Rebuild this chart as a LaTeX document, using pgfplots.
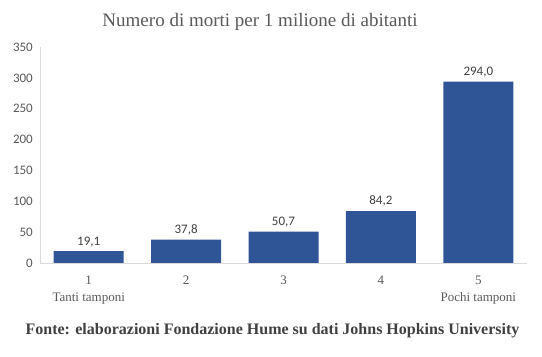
\documentclass[border=0pt]{standalone}
\usepackage{pgfplots}
\pgfplotsset{compat=1.18}
\usepackage{fontspec}
\setmainfont{Liberation Serif}
\newfontfamily\calibri{Carlito}
\definecolor{barblue}{HTML}{2F5597}
\definecolor{txtgray}{HTML}{595959}
\definecolor{lbldark}{HTML}{404040}
\definecolor{axgray}{HTML}{D9D9D9}
\begin{document}
\begin{tikzpicture}
\path[use as bounding box] (-40bp,-94bp) rectangle (502bp,263bp);
\begin{axis}[
  scale only axis, width=487bp, height=216bp,
  xmin=0.5, xmax=5.5, ymin=0, ymax=350,
  ytick={0,50,...,350},
  xtick={1,...,5},
  xticklabels={{1\\Tanti tamponi},2,3,4,{5\\Pochi tamponi}},
  /pgf/number format/assume math mode=true,
  axis x line=bottom, axis y line=left,
  axis line style={-, draw=axgray, line width=0.8bp},
  tick style={draw=none}, major tick length=0pt,
  xticklabel style={align=center, font=\fontsize{13bp}{16.5bp}\selectfont, text=txtgray, inner sep=2bp, yshift=-11bp},
  yticklabel style={font=\calibri\fontsize{13bp}{14bp}\selectfont, text=txtgray, inner sep=0pt, xshift=-7bp},
  ybar, bar width=70bp,
  nodes near coords,
  nodes near coords style={font=\calibri\fontsize{13bp}{14bp}\selectfont, text=lbldark, yshift=1bp,
    /pgf/number format/.cd, assume math mode=true, fixed, fixed zerofill, precision=1, use comma},
]
\addplot[fill=barblue, draw=none] coordinates {(1,19.1) (2,37.8) (3,50.7) (4,84.2) (5,294.0)};
\end{axis}
\node[anchor=base, font=\fontsize{19bp}{22bp}\selectfont, text=txtgray] at (220bp,236bp) {Numero di morti per 1 milione di abitanti};
\node[anchor=base, font=\bfseries\fontsize{16bp}{18bp}\selectfont, text=lbldark] at (232.5bp,-71bp) {Fonte: elaborazioni Fondazione Hume su dati Johns Hopkins University};
\end{tikzpicture}
\end{document}
